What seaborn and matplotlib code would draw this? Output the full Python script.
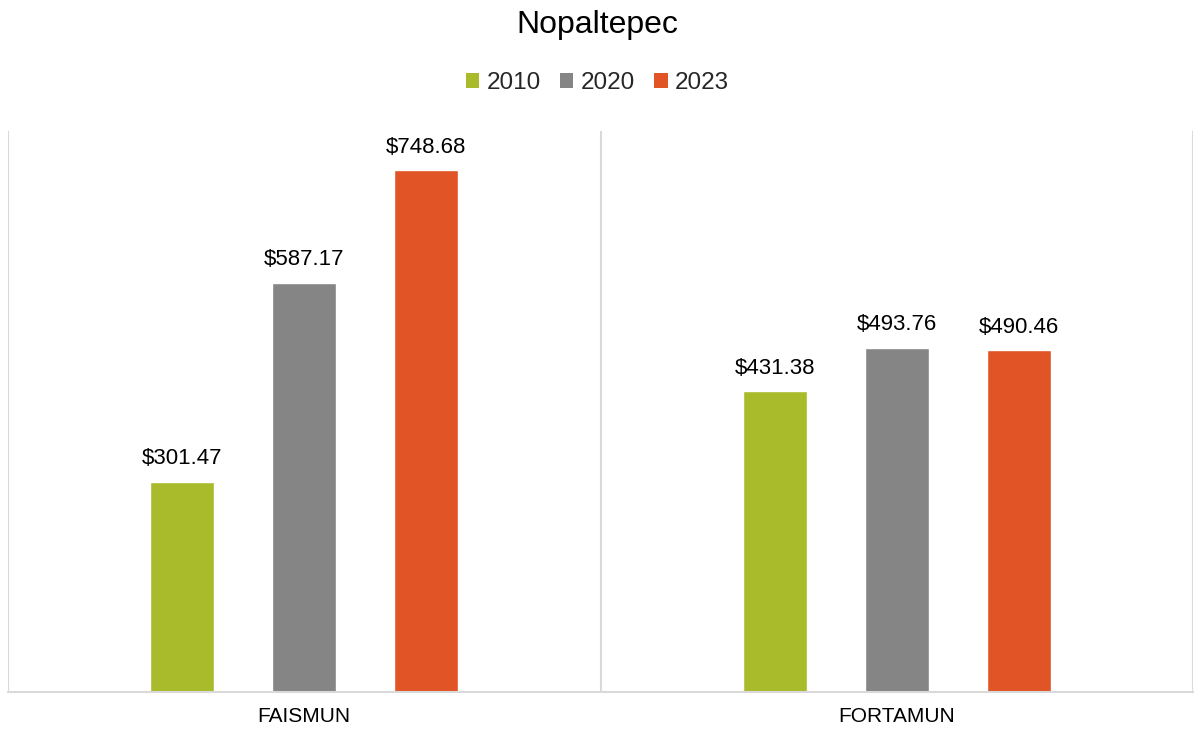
import matplotlib
matplotlib.use("Agg")
import matplotlib.pyplot as plt
import seaborn as sns
import pandas as pd
from matplotlib.patches import Patch

categories = ["FAISMUN", "FORTAMUN"]
years = ["2010", "2020", "2023"]
values_2010 = [301.47, 431.38]
values_2020 = [587.17, 493.76]
values_2023 = [748.68, 490.46]
colors = ["#A9BA2A", "#858585", "#E15426"]

rows = []
for yr, vals in zip(years, [values_2010, values_2020, values_2023]):
    for c, v in zip(categories, vals):
        rows.append({"Fondo": c, "Año": yr, "Valor": v})
df = pd.DataFrame(rows)

sns.set_theme(style="white")
plt.rcParams["font.family"] = ["Liberation Sans", "DejaVu Sans"]

W, H = 1195, 730
fig = plt.figure(figsize=(W / 100, H / 100), dpi=100)
ax = fig.add_axes([8 / W, (H - 692) / H, (1193 - 8) / W, (692 - 131) / H])

sns.barplot(data=df, x="Fondo", y="Valor", hue="Año", hue_order=years,
            palette=colors, order=categories, width=0.617, gap=0.476,
            errorbar=None, ax=ax, legend=False, saturation=1)

for cont in ax.containers:
    ax.bar_label(cont, labels=[f"${v:,.2f}" for v in cont.datavalues],
                 padding=9, fontsize=16, color="#000000")

ax.set_xlim(-0.5, 1.5)
ax.set_ylim(0, 805)
ax.set_yticks([])
ax.set_xlabel("")
ax.set_ylabel("")
for s in ["top", "right", "left"]:
    ax.spines[s].set_visible(False)
ax.spines["bottom"].set_color("#D9D9D9")
ax.spines["bottom"].set_linewidth(1.5)
for xb in [-0.5, 0.5, 1.5]:
    ax.axvline(xb, color="#D9D9D9", lw=1.5, zorder=0)
ax.tick_params(axis="x", length=0, pad=11, labelsize=15, labelcolor="#000000")

fig.text(0.5, 1 - 25 / H, "Nopaltepec", ha="center", va="center", fontsize=23, color="#000000")

handles = [Patch(facecolor=c, edgecolor="none", label=y) for c, y in zip(colors, years)]
fig.legend(handles=handles, loc="center", bbox_to_anchor=(0.5, 1 - 83 / H), ncol=3,
           frameon=False, fontsize=17.5, handlelength=0.55, handleheight=0.55,
           handletextpad=0.3, columnspacing=0.8)

fig.savefig("out.png", dpi=100, facecolor="white")
